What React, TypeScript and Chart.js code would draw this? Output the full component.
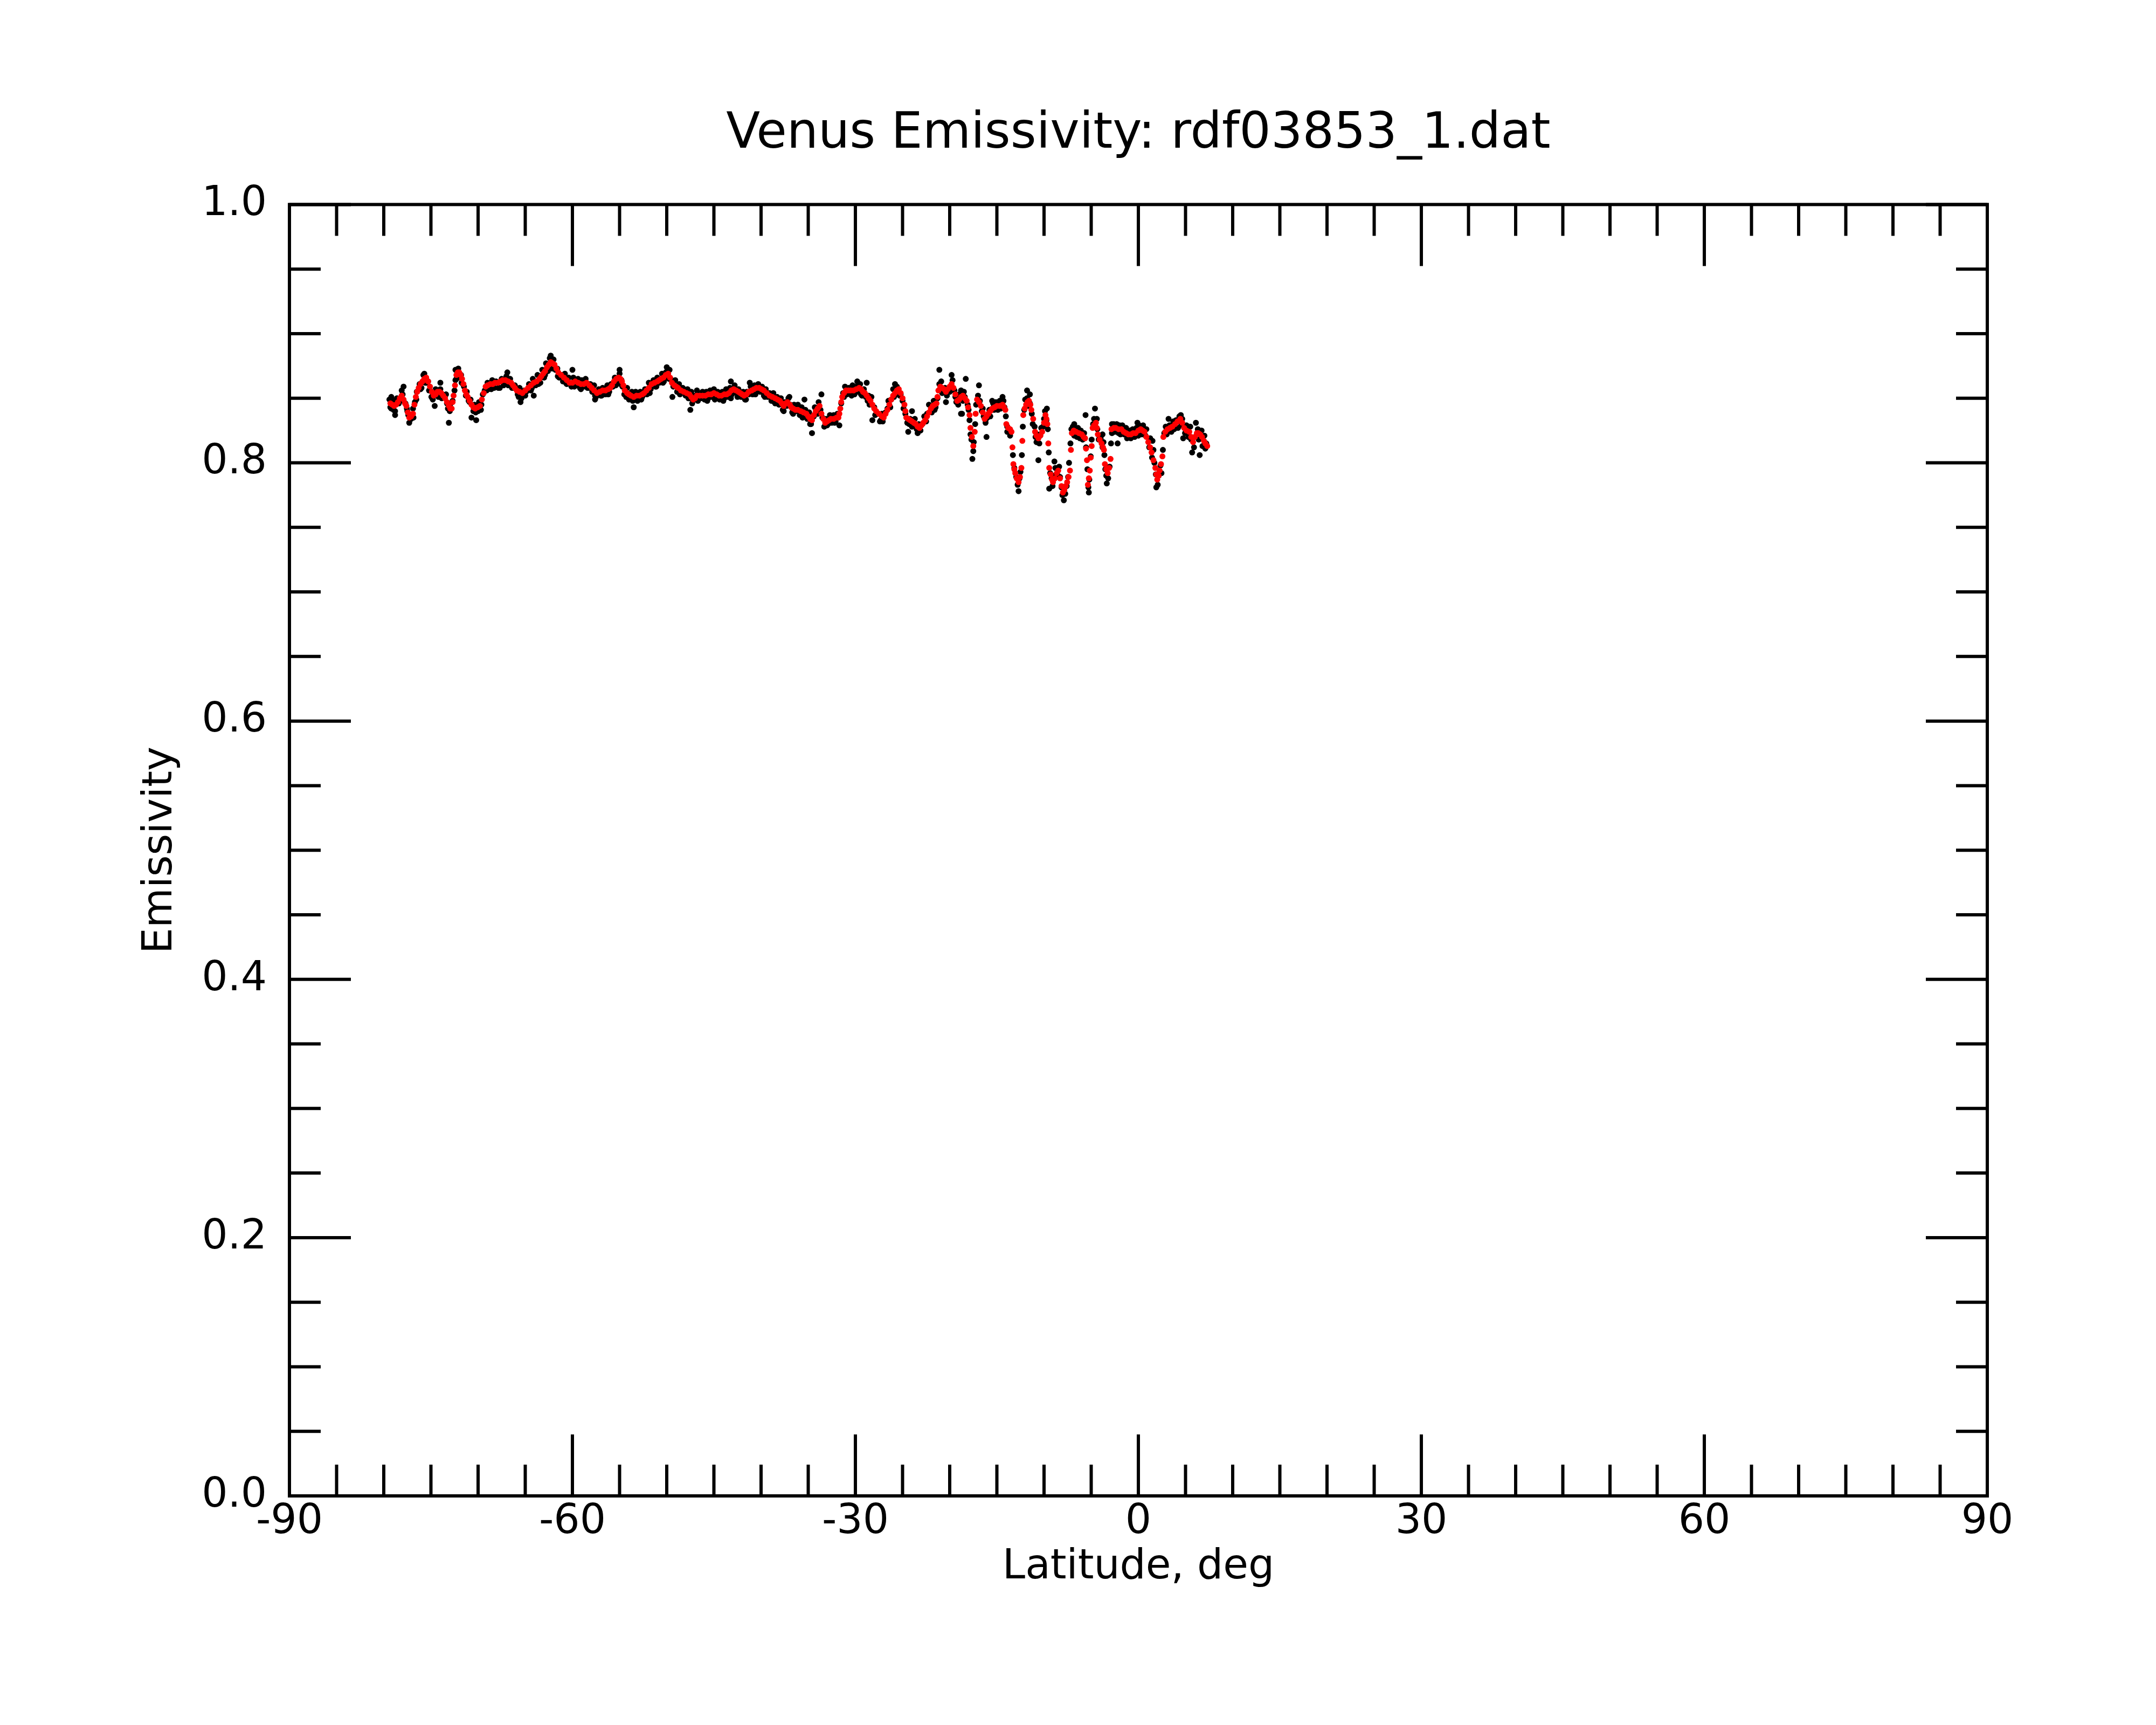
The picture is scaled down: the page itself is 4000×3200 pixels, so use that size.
import React, { useEffect, useRef } from "react";
import { Chart, registerables } from "chart.js";

Chart.register(...registerables);

const TITLE = "Venus Emissivity: rdf03853_1.dat";
const X_LABEL = "Latitude, deg";
const Y_LABEL = "Emissivity";

const X_MIN = -90;
const X_MAX = 90;
const Y_MIN = 0;
const Y_MAX = 1;
const X_TICKS = [-90, -60, -30, 0, 30, 60, 90];
const Y_TICKS = [0.0, 0.2, 0.4, 0.6, 0.8, 1.0];
const X_MINOR_STEP = 5;
const Y_MINOR_STEP = 0.05;

// smoothed series (red)
const RED_LAT = [
  -79.3, -79.1, -78.9, -78.7, -78.5, -78.3, -78.1, -77.9, -77.75, -77.6, -77.45, -77.3, -77.1, -76.9, -76.75, -76.6, -76.45, -76.3, -76.1, -75.9,
  -75.7, -75.5, -75.3, -75.1, -74.9, -74.7, -74.5, -74.3, -74.1, -73.9, -73.7, -73.5, -73.3, -73.1, -72.95, -72.8, -72.7, -72.6, -72.45, -72.3,
  -72.15, -72.0, -71.85, -71.7, -71.55, -71.4, -71.25, -71.1, -70.9, -70.7, -70.5, -70.3, -70.05, -69.8, -69.6, -69.4, -69.2, -69.0, -68.7, -68.45,
  -68.2, -67.9, -67.65, -67.4, -67.1, -66.8, -66.5, -66.3, -66.1, -65.9, -65.6, -65.3, -65.0, -64.7, -64.4, -64.1, -63.8, -63.5, -63.3, -63.1,
  -62.9, -62.7, -62.5, -62.3, -62.1, -61.9, -61.7, -61.5, -61.2, -60.9, -60.6, -60.3, -60.0, -59.7, -59.4, -59.1, -58.8, -58.5, -58.2, -57.95,
  -57.7, -57.4, -57.1, -56.8, -56.5, -56.2, -56.0, -55.8, -55.6, -55.35, -55.1, -54.9, -54.75, -54.6, -54.45, -54.2, -54.0, -53.8, -53.5, -53.2,
  -52.9, -52.6, -52.4, -52.15, -51.9, -51.6, -51.3, -51.0, -50.8, -50.6, -50.35, -50.1, -49.85, -49.65, -49.45, -49.2, -49.0, -48.8, -48.5, -48.2,
  -47.9, -47.6, -47.4, -47.2, -47.0, -46.8, -46.5, -46.2, -45.9, -45.6, -45.3, -45.0, -44.7, -44.45, -44.2, -43.9, -43.65, -43.4, -43.15, -42.9,
  -42.65, -42.4, -42.2, -42.0, -41.8, -41.55, -41.3, -41.0, -40.75, -40.5, -40.2, -39.95, -39.7, -39.4, -39.1, -38.8, -38.5, -38.25, -38.0, -37.8,
  -37.6, -37.4, -37.2, -36.95, -36.8, -36.6, -36.35, -36.1, -35.8, -35.5, -35.2, -35.0, -34.8, -34.6, -34.4, -34.2, -34.0, -33.8, -33.6, -33.4,
  -33.2, -33.0, -32.8, -32.6, -32.3, -32.0, -31.8, -31.7, -31.6, -31.5, -31.4, -31.2, -31.0, -30.75, -30.5, -30.2, -29.9, -29.6, -29.4, -29.2,
  -29.0, -28.8, -28.6, -28.4, -28.2, -28.0, -27.8, -27.5, -27.2, -27.0, -26.8, -26.6, -26.4, -26.2, -26.0, -25.8, -25.6, -25.4, -25.2, -25.0,
  -24.8, -24.7, -24.6, -24.4, -24.2, -24.0, -23.8, -23.6, -23.4, -23.2, -23.0, -22.8, -22.6, -22.4, -22.2, -22.0, -21.8, -21.6, -21.4, -21.3,
  -21.2, -21.0, -20.8, -20.6, -20.4, -20.2, -20.0, -19.8, -19.6, -19.4, -19.2, -19.0, -18.8, -18.6, -18.4, -18.2, -18.05, -17.9, -17.8, -17.65,
  -17.5, -17.35, -17.25, -17.1, -16.9, -16.7, -16.5, -16.3, -16.1, -15.9, -15.7, -15.5, -15.25, -15.0, -14.7, -14.4, -14.25, -14.1, -14.0, -13.8,
  -13.6, -13.45, -13.35, -13.25, -13.15, -13.05, -12.9, -12.7, -12.55, -12.4, -12.3, -12.2, -12.05, -11.9, -11.75, -11.6, -11.45, -11.35, -11.15, -10.95,
  -10.8, -10.6, -10.4, -10.2, -10.0, -9.85, -9.75, -9.65, -9.55, -9.45, -9.3, -9.15, -9.05, -8.85, -8.65, -8.5, -8.3, -8.15, -8.0, -7.85,
  -7.7, -7.55, -7.4, -7.25, -7.15, -7.05, -6.85, -6.6, -6.3, -6.0, -5.8, -5.65, -5.55, -5.45, -5.35, -5.25, -5.15, -5.05, -4.95, -4.85,
  -4.7, -4.5, -4.4, -4.3, -4.1, -3.9, -3.75, -3.65, -3.55, -3.4, -3.25, -3.1, -2.95, -2.85, -2.6, -2.4, -2.1, -1.8, -1.55, -1.3,
  -1.05, -0.8, -0.55, -0.3, 0.0, 0.25, 0.45, 0.65, 0.85, 1.05, 1.25, 1.4, 1.6, 1.8, 1.9, 2.0, 2.15, 2.25, 2.4, 2.55,
  2.65, 2.85, 3.1, 3.35, 3.6, 3.9, 4.15, 4.45, 4.65, 4.85, 5.1, 5.4, 5.6, 5.8, 6.0, 6.2, 6.35, 6.55, 6.75, 6.95,
  7.1, 7.3,
];
const RED_VAL = [
  .846, .845, .844, .845, .847, .850, .852, .849, .846, .844, .839, .835, .836, .838, .845, .851, .855, .858, .861, .863,
  .865, .866, .863, .859, .855, .852, .853, .855, .855, .854, .852, .850, .847, .844, .842, .842, .847, .852, .860, .868,
  .870, .870, .868, .865, .861, .856, .853, .851, .848, .845, .843, .842, .843, .844, .849, .854, .859, .860, .861, .861,
  .862, .862, .863, .864, .864, .863, .862, .860, .858, .856, .855, .854, .856, .858, .860, .862, .863, .865, .867, .869,
  .871, .874, .876, .878, .877, .876, .873, .870, .868, .866, .864, .862, .862, .863, .862, .861, .861, .862, .860, .858,
  .856, .854, .855, .856, .856, .857, .858, .860, .863, .865, .866, .865, .863, .860, .856, .854, .853, .852, .851, .852,
  .852, .853, .854, .856, .858, .861, .862, .863, .864, .865, .866, .868, .869, .866, .862, .860, .859, .858, .856, .855,
  .854, .853, .851, .849, .850, .852, .852, .852, .852, .853, .853, .854, .853, .852, .852, .853, .853, .854, .856, .857,
  .856, .855, .854, .853, .852, .853, .855, .856, .857, .858, .858, .857, .856, .854, .852, .851, .850, .849, .848, .846,
  .844, .846, .847, .845, .843, .842, .841, .841, .840, .839, .838, .836, .834, .833, .837, .840, .842, .844, .838, .834,
  .831, .832, .833, .834, .834, .835, .835, .838, .842, .847, .851, .854, .856, .856, .856, .856, .857, .858, .857, .855,
  .854, .852, .850, .848, .845, .842, .840, .838, .836, .835, .838, .841, .845, .849, .852, .854, .856, .857, .854, .850,
  .845, .840, .835, .834, .833, .832, .831, .830, .828, .827, .829, .831, .833, .836, .839, .842, .844, .845, .846, .851,
  .856, .859, .858, .857, .855, .857, .859, .861, .858, .853, .848, .849, .851, .852, .850, .848, .843, .837, .827, .820,
  .813, .824, .838, .849, .847, .844, .839, .834, .836, .838, .840, .842, .843, .844, .844, .845, .843, .841, .830, .827,
  .826, .824, .812, .799, .795, .792, .788, .785, .789, .796, .817, .837, .842, .845, .847, .848, .845, .841, .834, .824,
  .821, .819, .821, .824, .831, .837, .834, .830, .815, .796, .791, .787, .785, .788, .792, .794, .788, .782, .777, .779,
  .782, .785, .789, .794, .810, .823, .825, .824, .823, .822, .820, .819, .811, .802, .783, .788, .794, .804, .813, .827,
  .829, .831, .827, .822, .818, .815, .812, .810, .799, .795, .792, .796, .803, .826, .827, .827, .826, .826, .824, .823,
  .822, .822, .823, .823, .825, .826, .825, .824, .820, .816, .812, .808, .802, .796, .791, .787, .790, .794, .799, .805,
  .820, .824, .826, .827, .828, .830, .832, .834, .831, .827, .825, .824, .820, .816, .820, .823, .823, .822, .820, .817,
  .815, .813,
];

// raw series (black)
const BLACK_LAT = [
  -79.4, -79.2, -79.0, -78.8, -78.6, -78.3, -78.1, -77.9, -77.7, -77.5,
  -77.4, -77.1, -76.9, -76.7, -76.5, -76.2, -76.0, -75.8, -75.6, -75.3,
  -75.2, -74.9, -74.8, -74.5, -74.2, -74.0, -73.7, -73.4, -73.3, -73.0,
  -72.9, -72.7, -72.5, -72.4, -72.1, -71.9, -71.8, -71.6, -71.5, -71.3,
  -71.2, -70.9, -70.8, -70.5, -70.4, -70.0, -69.9, -69.7, -69.5, -69.3,
  -69.0, -68.9, -68.5, -68.3, -68.1, -67.7, -67.5, -67.3, -67.0, -66.8,
  -66.6, -66.3, -66.1, -65.8, -65.6, -65.4, -65.1, -64.9, -64.6, -64.4,
  -64.2, -63.9, -63.7, -63.4, -63.2, -63.0, -62.8, -62.6, -62.4, -62.2,
  -62.0, -61.8, -61.6, -61.4, -61.2, -61.0, -60.8, -60.6, -60.4, -60.1,
  -59.9, -59.6, -59.4, -59.2, -59.0, -58.8, -58.6, -58.3, -58.1, -57.9,
  -57.7, -57.5, -57.2, -57.0, -56.8, -56.5, -56.3, -56.1, -55.9, -55.7,
  -55.5, -55.3, -55.0, -54.8, -54.7, -54.5, -54.2, -54.0, -53.7, -53.5,
  -53.3, -53.1, -52.8, -52.6, -52.3, -52.1, -51.9, -51.7, -51.4, -51.2,
  -51.0, -50.8, -50.5, -50.3, -50.1, -49.9, -49.7, -49.6, -49.3, -49.1,
  -48.9, -48.7, -48.5, -48.3, -48.0, -47.8, -47.6, -47.4, -47.3, -47.1,
  -46.9, -46.6, -46.4, -46.2, -46.0, -45.8, -45.6, -45.4, -45.2, -45.0,
  -44.8, -44.6, -44.4, -44.1, -43.9, -43.7, -43.5, -43.3, -43.1, -42.8,
  -42.6, -42.4, -42.1, -41.9, -41.7, -41.5, -41.3, -41.1, -40.9, -40.7,
  -40.5, -40.3, -40.1, -39.9, -39.7, -39.5, -39.3, -39.1, -38.9, -38.7,
  -38.5, -38.3, -38.1, -37.9, -37.7, -37.5, -37.3, -37.1, -36.9, -36.7,
  -36.5, -36.3, -36.1, -35.9, -35.7, -35.5, -35.3, -35.1, -34.9, -34.8,
  -34.4, -34.3, -34.0, -33.9, -33.7, -33.5, -33.3, -33.1, -32.9, -32.7,
  -32.5, -32.3, -32.1, -31.9, -31.5, -31.3, -31.1, -30.9, -30.7, -30.5,
  -30.3, -30.1, -29.9, -29.7, -29.5, -29.3, -29.1, -28.9, -28.6, -28.5,
  -28.3, -28.0, -27.9, -27.6, -27.4, -27.2, -27.1, -26.8, -26.6, -26.5,
  -26.2, -26.0, -25.9, -25.6, -25.5, -25.2, -25.0, -24.9, -24.7, -24.5,
  -24.2, -24.0, -23.7, -23.6, -23.3, -23.1, -22.9, -22.7, -22.4, -22.2,
  -21.9, -21.7, -21.5, -21.3, -21.1, -20.9, -20.7, -20.5, -20.3, -20.1,
  -19.9, -19.7, -19.5, -19.4, -19.1, -19.0, -18.8, -18.7, -18.5, -18.4,
  -18.1, -18.0, -17.9, -17.8, -17.7, -17.5, -17.45, -17.3, -17.2, -17.0,
  -16.9, -16.8, -16.6, -16.5, -16.4, -16.2, -16.0, -15.8, -15.7, -15.4,
  -15.3, -15.1, -14.9, -14.7, -14.6, -14.3, -14.2, -14.05, -13.9, -13.7,
  -13.6, -13.3, -13.15, -12.95, -12.8, -12.6, -12.5, -12.35, -12.25, -12.1,
  -12.0, -11.8, -11.7, -11.5, -11.3, -11.2, -11.0, -10.9, -10.8, -10.7,
  -10.5, -10.4, -10.3, -10.1, -10.0, -9.9, -9.75, -9.6, -9.5, -9.35,
  -9.2, -9.1, -8.95, -8.8, -8.6, -8.4, -8.3, -8.15, -8.05, -7.9,
  -7.75, -7.6, -7.45, -7.35, -7.2, -7.1, -6.95, -6.8, -6.7, -6.5,
  -6.4, -6.2, -6.1, -5.9, -5.75, -5.55, -5.4, -5.3, -5.2, -5.05,
  -4.95, -4.8, -4.7, -4.6, -4.4, -4.35, -4.2, -4.0, -3.8, -3.7,
  -3.6, -3.5, -3.4, -3.2, -3.05, -2.9, -2.8, -2.6, -2.5, -2.3,
  -2.1, -2.0, -1.9, -1.7, -1.5, -1.3, -1.2, -0.9, -0.8, -0.6,
  -0.4, -0.2, 0.0, 0.1, 0.35, 0.5, 0.75, 0.85, 1.15, 1.25,
  1.45, 1.6, 1.7, 1.85, 2.05, 2.15, 2.35, 2.45, 2.6, 2.75,
  2.9, 3.0, 3.3, 3.5, 3.7, 3.8, 4.0, 4.2, 4.35, 4.55,
  4.65, 4.95, 5.1, 5.3, 5.5, 5.6, 5.9, 6.0, 6.3, 6.4,
  6.7, 6.8, 7.0, 7.1, 7.2,
  -78.8, -79.2, -77.9, -77.3, -75.7, -74.0, -74.6, -73.1, -72.4, -70.7,
  -70.2, -66.9, -65.5, -64.1, -62.3, -60.0, -57.6, -55.0, -53.5, -49.4,
  -50.0, -47.5, -46.8, -43.2, -41.2, -37.0, -35.4, -34.6, -33.6, -31.7,
  -29.8, -28.8, -28.2, -25.8, -24.4, -23.4, -24.0, -21.1, -19.8, -20.4,
  -18.8, -18.3, -16.9, -18.7, -17.6, -16.1, -15.5, -14.4, -13.9, -12.7,
  -11.8, -11.5, -10.6, -9.7, -9.45, -8.9, -7.9, -6.8, -5.6, -5.25,
  -4.6, -3.35, -3.8, -2.8, -2.2, -0.1, 1.5, 1.9, 3.2, 4.5,
  4.75, 5.7, 6.1, 6.5,
  -79.3, -78.95, -78.4, -78.0, -77.55, -76.85, -76.55, -76.1, -75.45, -74.95,
  -74.35, -73.85, -73.2, -72.3, -71.75, -71.0, -70.25, -69.65, -69.1, -68.6,
  -67.85, -67.2, -66.4, -65.7, -65.0, -64.3, -63.6, -62.9, -62.15, -61.55,
  -60.7, -59.8, -59.1, -58.4, -57.6, -56.9, -56.2, -55.4, -54.9, -54.3,
  -53.6, -52.7, -51.8, -51.1, -50.4, -49.75, -48.6, -47.7, -46.7, -45.7,
  -44.9, -44.0, -43.2, -42.5, -41.6, -40.6, -39.6, -38.6, -37.6, -36.6,
  -35.6, -34.7, -33.0, -32.2, -31.2, -30.4, -29.4, -28.7, -27.3, -26.3,
  -25.3, -24.3, -23.5, -22.5, -21.6, -20.8, -20.0, -19.3, -18.6, -16.2,
];
const BLACK_VAL = [
  .849, .842, .848, .840, .850, .849, .856, .848, .846, .840,
  .837, .834, .842, .847, .855, .861, .858, .868, .862, .863,
  .856, .855, .849, .857, .851, .857, .851, .853, .846, .840,
  .846, .848, .856, .864, .873, .866, .868, .861, .859, .852,
  .855, .847, .849, .840, .845, .840, .847, .841, .853, .856,
  .862, .857, .864, .858, .863, .858, .865, .860, .867, .860,
  .865, .858, .860, .853, .858, .850, .856, .855, .861, .856,
  .865, .860, .868, .862, .872, .866, .877, .871, .881, .875,
  .880, .872, .873, .866, .868, .863, .869, .861, .866, .859,
  .866, .860, .865, .858, .864, .859, .865, .858, .861, .855,
  .860, .851, .857, .852, .858, .853, .860, .855, .861, .859,
  .866, .862, .869, .864, .859, .853, .858, .849, .855, .849,
  .855, .848, .855, .851, .857, .853, .862, .857, .864, .859,
  .866, .862, .869, .863, .870, .866, .872, .865, .859, .864,
  .855, .861, .854, .858, .852, .857, .850, .855, .846, .852,
  .849, .854, .850, .855, .849, .855, .850, .856, .851, .857,
  .850, .855, .849, .855, .850, .857, .851, .858, .853, .860,
  .854, .857, .851, .855, .849, .855, .853, .859, .853, .860,
  .855, .861, .855, .859, .852, .857, .851, .854, .848, .854,
  .846, .851, .845, .850, .841, .847, .844, .850, .845, .839,
  .845, .840, .845, .837, .843, .836, .841, .834, .839, .830,
  .836, .843, .838, .847, .841, .835, .828, .834, .830, .837,
  .831, .837, .832, .838, .846, .854, .859, .853, .858, .853,
  .860, .853, .859, .855, .861, .852, .857, .851, .852, .845,
  .851, .843, .837, .838, .832, .838, .832, .839, .842, .848,
  .849, .857, .851, .859, .854, .853, .848, .842, .838, .831,
  .834, .828, .834, .828, .830, .825, .830, .836, .838, .845,
  .839, .848, .843, .850, .861, .863, .856, .858, .852, .857,
  .858, .864, .856, .851, .845, .853, .856, .849, .855, .851,
  .845, .841, .833, .822, .818, .809, .816, .830, .845, .852,
  .846, .848, .840, .842, .836, .831, .835, .841, .836, .846,
  .841, .847, .841, .848, .842, .848, .843, .836, .828, .826,
  .821, .806, .796, .789, .783, .788, .793, .806, .828, .841,
  .849, .850, .844, .846, .838, .830, .828, .820, .816, .822,
  .815, .821, .827, .828, .834, .840, .833, .826, .808, .792,
  .788, .782, .790, .796, .791, .797, .789, .781, .775, .780,
  .776, .782, .789, .800, .815, .826, .828, .821, .826, .820,
  .827, .819, .825, .818, .823, .812, .795, .781, .787, .805,
  .818, .830, .834, .828, .834, .826, .818, .819, .812, .816,
  .806, .795, .790, .788, .797, .815, .823, .830, .824, .830,
  .823, .829, .822, .829, .822, .827, .819, .825, .819, .826,
  .820, .827, .821, .829, .822, .829, .821, .826, .812, .819,
  .804, .810, .800, .791, .783, .790, .798, .792, .810, .823,
  .828, .822, .829, .824, .832, .826, .833, .827, .836, .829,
  .834, .823, .829, .820, .828, .818, .812, .820, .826, .818,
  .825, .813, .821, .811, .815,
  .837, .851, .859, .831, .869, .862, .844, .831, .872, .835,
  .833, .870, .847, .852, .883, .872, .849, .872, .843, .851,
  .874, .841, .856, .863, .862, .851, .849, .823, .853, .829,
  .863, .862, .833, .861, .824, .823, .840, .872, .868, .847,
  .838, .865, .860, .838, .803, .820, .848, .851, .824, .778,
  .856, .853, .802, .842, .780, .801, .771, .830, .837, .777,
  .842, .784, .822, .830, .815, .831, .817, .781, .834, .837,
  .819, .808, .831, .806,
  .843, .841, .846, .853, .842, .835, .849, .857, .862, .851,
  .852, .850, .842, .865, .862, .848, .839, .845, .856, .857,
  .858, .861, .858, .851, .852, .858, .861, .868, .873, .867,
  .862, .859, .857, .858, .852, .852, .853, .860, .861, .851,
  .848, .849, .854, .859, .862, .865, .853, .850, .848, .848,
  .849, .848, .850, .851, .849, .853, .851, .847, .840, .838,
  .835, .830, .829, .831, .851, .852, .853, .848, .833, .843,
  .852, .830, .826, .832, .841, .854, .855, .847, .848, .833,
];

const toPoints = (lats: number[], vals: number[]) => {
  const n = Math.min(lats.length, vals.length);
  const pts: { x: number; y: number }[] = [];
  for (let i = 0; i < n; i++) pts.push({ x: lats[i], y: vals[i] });
  return pts;
};

const FONT = "'DejaVu Sans', 'Liberation Sans', sans-serif";

const frameAndTicks = {
  id: "frameAndTicks",
  afterDatasetsDraw(chart: any) {
    const { ctx, chartArea, scales } = chart;
    const { left, right, top, bottom } = chartArea;
    const xs = scales.x;
    const ys = scales.y;
    const MAJOR = 114;
    const MINOR = 58;
    ctx.save();
    ctx.strokeStyle = "#000";
    ctx.lineWidth = 6;
    ctx.lineCap = "butt";
    ctx.beginPath();
    // x ticks (top and bottom, pointing inward)
    const nX = Math.round((X_MAX - X_MIN) / X_MINOR_STEP);
    for (let i = 0; i <= nX; i++) {
      const v = X_MIN + i * X_MINOR_STEP;
      const px = xs.getPixelForValue(v);
      const isMajor = X_TICKS.some((t) => Math.abs(t - v) < 1e-6);
      const len = isMajor ? MAJOR : MINOR;
      ctx.moveTo(px, bottom);
      ctx.lineTo(px, bottom - len);
      ctx.moveTo(px, top);
      ctx.lineTo(px, top + len);
    }
    // y ticks (left and right, pointing inward)
    const nY = Math.round((Y_MAX - Y_MIN) / Y_MINOR_STEP);
    for (let i = 0; i <= nY; i++) {
      const v = Y_MIN + i * Y_MINOR_STEP;
      const py = ys.getPixelForValue(v);
      const isMajor = Y_TICKS.some((t) => Math.abs(t - v) < 1e-6);
      const len = isMajor ? MAJOR : MINOR;
      ctx.moveTo(left, py);
      ctx.lineTo(left + len, py);
      ctx.moveTo(right, py);
      ctx.lineTo(right - len, py);
    }
    ctx.stroke();
    ctx.lineJoin = "miter";
    ctx.strokeRect(left, top, right - left, bottom - top);
    ctx.restore();
  },
};

export default function App() {
  const canvasRef = useRef<HTMLCanvasElement | null>(null);

  useEffect(() => {
    if (!canvasRef.current) return;
    const chart = new Chart(canvasRef.current, {
      type: "scatter",
      data: {
        datasets: [
          {
            label: "smoothed",
            data: toPoints(RED_LAT, RED_VAL),
            backgroundColor: "#ff0000",
            borderWidth: 0,
            pointRadius: 5.5,
            pointHoverRadius: 5.5,
            order: 0,
          },
          {
            label: "raw",
            data: toPoints(BLACK_LAT, BLACK_VAL),
            backgroundColor: "#000000",
            borderWidth: 0,
            pointRadius: 5.5,
            pointHoverRadius: 5.5,
            order: 1,
          },
        ],
      },
      options: {
        animation: false,
        responsive: true,
        maintainAspectRatio: false,
        devicePixelRatio: 1,
        events: [],
        layout: { padding: { left: 0, top: 0, right: 313, bottom: 0 } },
        plugins: {
          legend: { display: false },
          tooltip: { enabled: false },
          title: {
            display: true,
            text: TITLE,
            color: "#000",
            fullSize: false,
            font: { family: FONT, size: 92, weight: "normal", lineHeight: 1.2 },
            padding: { top: 195, bottom: 74 },
          },
        },
        scales: {
          x: {
            type: "linear",
            position: "bottom",
            min: X_MIN,
            max: X_MAX,
            grid: { display: false, drawTicks: false },
            border: { display: false },
            afterBuildTicks: (s: any) => {
              s.ticks = X_TICKS.map((v) => ({ value: v }));
            },
            afterFit: (s: any) => {
              s.height = 425;
            },
            ticks: {
              autoSkip: false,
              maxRotation: 0,
              minRotation: 0,
              padding: 4,
              color: "#000",
              font: { family: FONT, size: 76, lineHeight: 1.2 },
              callback: (v: any) => String(v),
            },
            title: {
              display: true,
              text: X_LABEL,
              color: "#000",
              font: { family: FONT, size: 76, lineHeight: 1.2 },
              padding: { top: 0, bottom: 246 },
            },
          },
          y: {
            type: "linear",
            position: "left",
            min: Y_MIN,
            max: Y_MAX,
            grid: { display: false, drawTicks: false },
            border: { display: false },
            afterBuildTicks: (s: any) => {
              s.ticks = Y_TICKS.map((v) => ({ value: v }));
            },
            afterFit: (s: any) => {
              s.width = 537;
            },
            ticks: {
              autoSkip: false,
              padding: 42,
              color: "#000",
              font: { family: FONT, size: 76, lineHeight: 1.2 },
              callback: (v: any) => Number(v).toFixed(1),
            },
            title: {
              display: true,
              text: Y_LABEL,
              color: "#000",
              font: { family: FONT, size: 76, lineHeight: 1.2 },
              padding: { top: 253, bottom: 0 },
            },
          },
        },
      },
      plugins: [frameAndTicks],
    });
    return () => chart.destroy();
  }, []);

  return (
    <div
      style={{
        position: "fixed",
        left: 0,
        top: 0,
        width: 4000,
        height: 3200,
        background: "#ffffff",
      }}
    >
      <canvas ref={canvasRef} />
    </div>
  );
}
